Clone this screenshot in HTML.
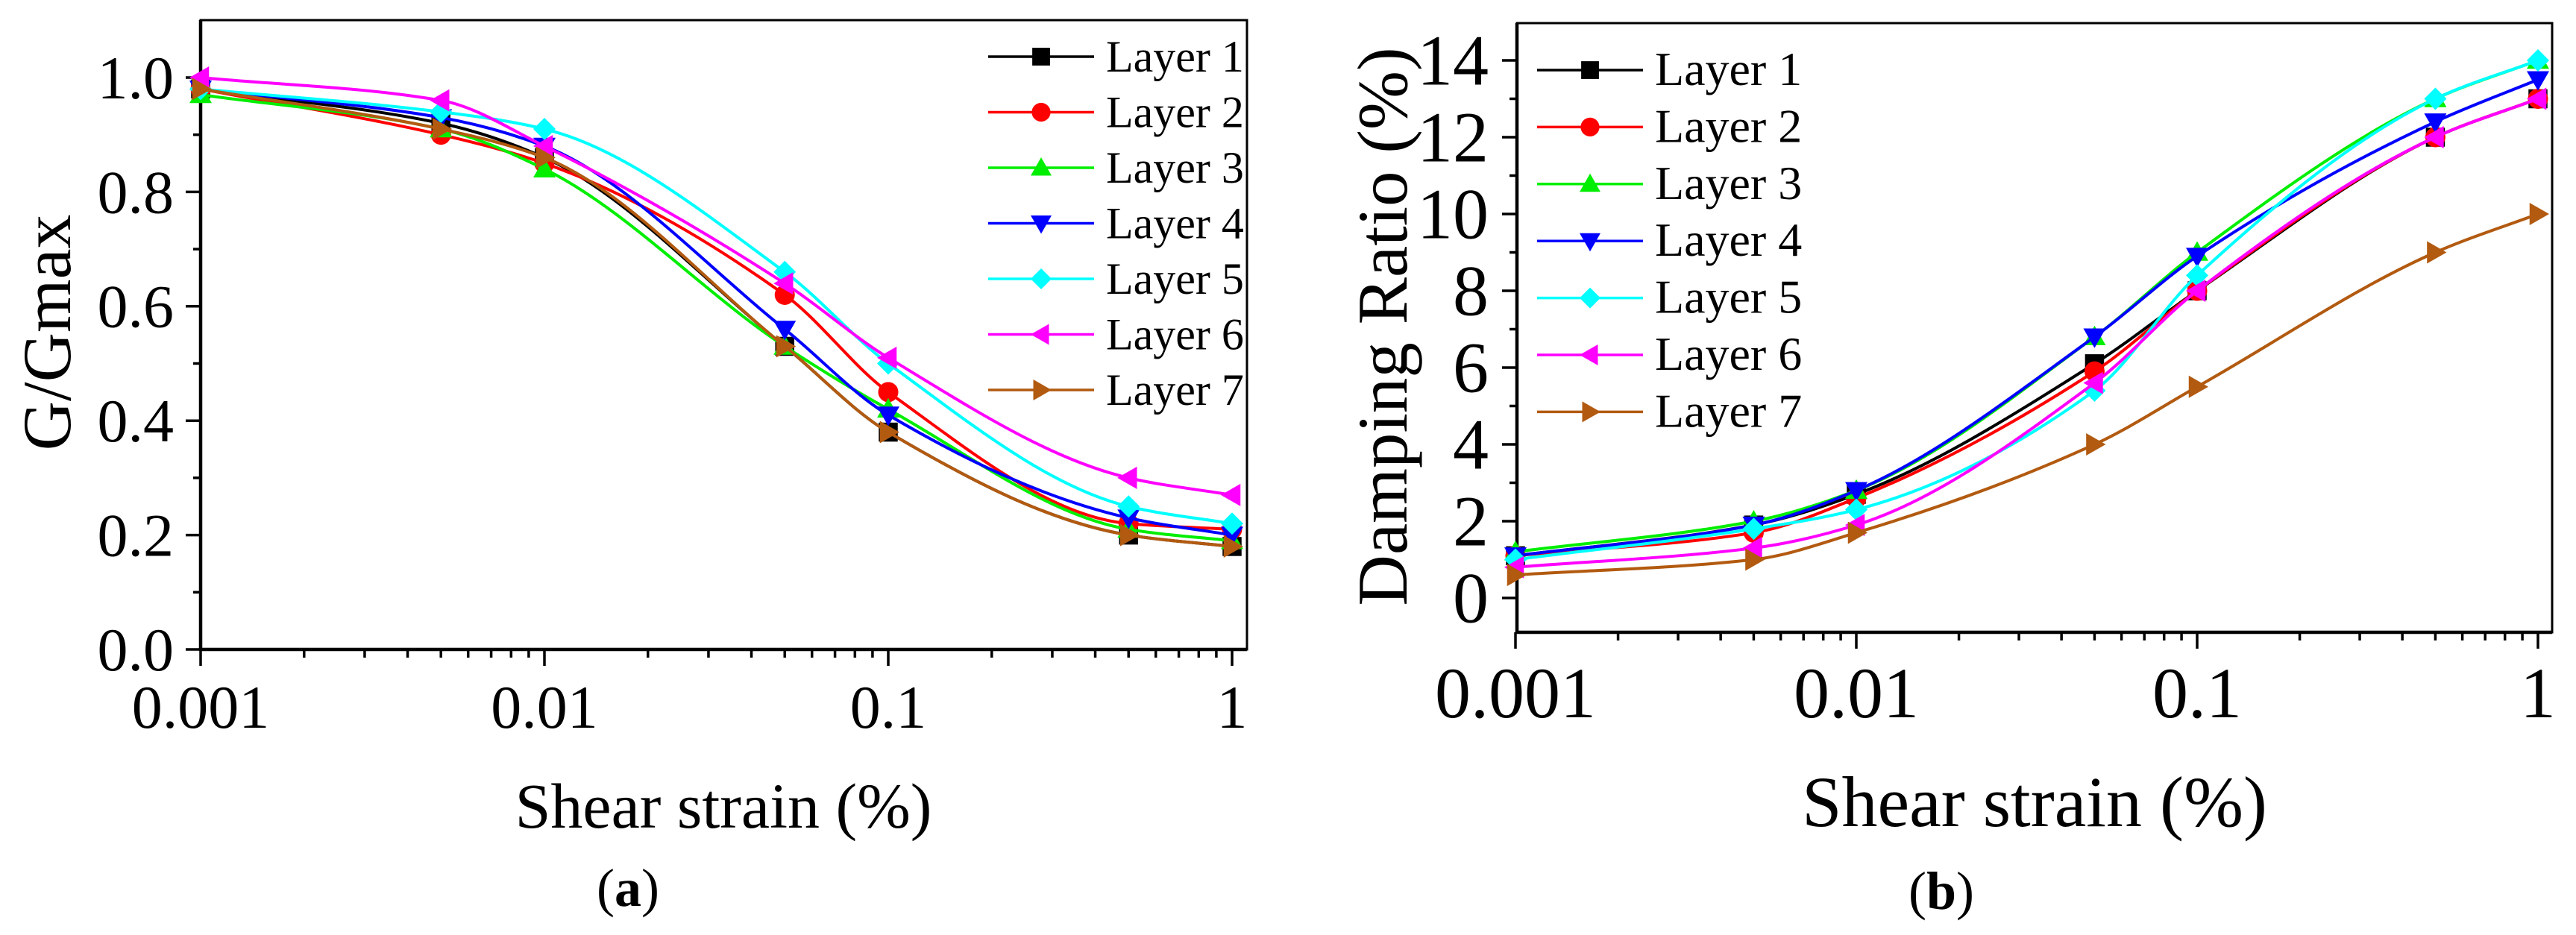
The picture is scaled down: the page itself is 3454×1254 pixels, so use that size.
<!DOCTYPE html>
<html><head><meta charset="utf-8"><style>
html,body{margin:0;padding:0;background:#fff;font-family:'Liberation Serif','Times New Roman',Times,'Nimbus Roman','DejaVu Serif',serif;}
svg text{font-family:'Liberation Serif','Times New Roman',Times,'Nimbus Roman','DejaVu Serif',serif;}
</style></head><body>
<svg id="fig" width="3454" height="1249" viewBox="0 0 3454 1249" xmlns="http://www.w3.org/2000/svg"></svg>
<script>
const strains = [0.001, 0.005, 0.01, 0.05, 0.1, 0.5, 1];
const layerNames = ["Layer 1","Layer 2","Layer 3","Layer 4","Layer 5","Layer 6","Layer 7"];
const layerColors = ["#000000","#ff0000","#00ee00","#0000ff","#00ffff","#ff00ff","#b25a10"];
const layerMarkers = ["square","circle","up","down","diamond","left","right"];
const gL1 = [0.98,0.92,0.86,0.53,0.38,0.20,0.18];
const gL2 = [0.98,0.90,0.85,0.62,0.45,0.22,0.21];
const gL3 = [0.97,0.91,0.84,0.53,0.42,0.21,0.19];
const gL4 = [0.98,0.93,0.88,0.56,0.41,0.23,0.20];
const gL5 = [0.98,0.94,0.91,0.66,0.50,0.25,0.22];
const gL6 = [1.00,0.96,0.88,0.64,0.51,0.30,0.27];
const gL7 = [0.98,0.91,0.86,0.53,0.38,0.20,0.18];
const dL1 = [1.1,1.9,2.7,6.1,8.0,12.0,13.0];
const dL2 = [1.1,1.7,2.6,5.9,8.0,12.0,13.0];
const dL3 = [1.2,2.0,2.8,6.8,9.0,13.0,14.0];
const dL4 = [1.1,1.9,2.8,6.8,8.9,12.4,13.5];
const dL5 = [1.0,1.8,2.3,5.4,8.4,13.0,14.0];
const dL6 = [0.8,1.3,1.9,5.6,8.0,12.0,13.0];
const dL7 = [0.6,1.0,1.7,4.0,5.5,9.0,10.0];
const xTickValues = [0.001,0.01,0.1,1];
const xTickLabels = ["0.001","0.01","0.1","1"];
const gTickValues = [0,0.2,0.4,0.6,0.8,1.0];
const gTickLabels = ["0.0","0.2","0.4","0.6","0.8","1.0"];
const dTickValues = [0,2,4,6,8,10,12,14];
const dTickLabels = ["0","2","4","6","8","10","12","14"];

const NS="http://www.w3.org/2000/svg";
const svg=document.getElementById('fig');
function mk(tag,attrs,parent){const e=document.createElementNS(NS,tag);for(const k in attrs)e.setAttribute(k,attrs[k]);if(tag==='text')e.style.fontFamily="'Liberation Serif','Times New Roman',Times,'DejaVu Serif',serif";(parent||svg).appendChild(e);return e;}

function marker(g,type,x,y,s,color){
  let e;
  const h=s/2;
  if(type==="square") e=mk('rect',{x:x-h*0.85,y:y-h*0.85,width:s*0.85,height:s*0.85,fill:color},g);
  else if(type==="circle") e=mk('circle',{cx:x,cy:y,r:h*0.9,fill:color},g);
  else {
    let p;
    if(type==="up") p=[[x,y-h],[x+h,y+h*0.75],[x-h,y+h*0.75]];
    else if(type==="down") p=[[x,y+h],[x+h,y-h*0.75],[x-h,y-h*0.75]];
    else if(type==="left") p=[[x-h,y],[x+h*0.75,y-h],[x+h*0.75,y+h]];
    else if(type==="right") p=[[x+h,y],[x-h*0.75,y-h],[x-h*0.75,y+h]];
    else p=[[x,y-h],[x+h,y],[x,y+h],[x-h,y]];
    e=mk('polygon',{points:p.map(q=>q.join(',')).join(' '),fill:color},g);
  }
  return e;
}
function smooth(pts){
  const n=pts.length, d=[], m=[];
  for(let i=0;i<n-1;i++) d.push((pts[i+1][1]-pts[i][1])/(pts[i+1][0]-pts[i][0]));
  m[0]=d[0]; m[n-1]=d[n-2];
  for(let i=1;i<n-1;i++){
    if(d[i-1]*d[i]<=0) m[i]=0;
    else{const h0=pts[i][0]-pts[i-1][0],h1=pts[i+1][0]-pts[i][0];
      const w1=2*h1+h0,w2=h1+2*h0; m[i]=(w1+w2)/(w1/d[i-1]+w2/d[i]);}
  }
  let s="M"+pts[0][0]+","+pts[0][1];
  for(let i=0;i<n-1;i++){
    const h=pts[i+1][0]-pts[i][0];
    s+=" C"+(pts[i][0]+h/3)+","+(pts[i][1]+m[i]*h/3)+" "+(pts[i+1][0]-h/3)+","+(pts[i+1][1]-m[i+1]*h/3)+" "+pts[i+1][0]+","+pts[i+1][1];
  }
  return s;
}

function panel(cfg){
  const g=mk('g',{});
  
  
  const L=cfg.left,R=cfg.right,T=cfg.top,B=cfg.bottom;
  const xs=v=>cfg.x0+(Math.log10(v)+3)*cfg.dec;
  const ys=v=>cfg.y0-(v-cfg.ymin)*cfg.ppu;
  const fr=mk('rect',{x:L,y:T,width:R-L,height:B-T,fill:'none',stroke:'#000','stroke-width':3},g);
  
  
  mk('line',{x1:L,y1:T,x2:L,y2:B+2,stroke:'#000','stroke-width':4.5},g);
  mk('line',{x1:L-2,y1:B,x2:R,y2:B,stroke:'#000','stroke-width':4.5},g);
  for(let dcd=-3;dcd<=0;dcd++){
    for(let m=1;m<=9;m++){
      const v=m*Math.pow(10,dcd);
      const x=xs(v);
      if(x>R+1)break;
      mk('line',{x1:x,y1:B,x2:x,y2:B+(m===1?22:11),stroke:'#000','stroke-width':3.5},g);
    }
  }
  xTickValues.forEach((v,i)=>{
    const t=mk('text',{x:xs(v),y:cfg.xlabY,'font-size':cfg.fs,'text-anchor':'middle',fill:'#000'},g);
    t.textContent=xTickLabels[i];
    
    
  });
  cfg.yTicks.forEach((v,i)=>{
    const y=ys(v);
    mk('line',{x1:L-20,y1:y,x2:L,y2:y,stroke:'#000','stroke-width':3.5},g);
    if(i<cfg.yTicks.length-1){
      const ym=ys((v+cfg.yTicks[i+1])/2);
      mk('line',{x1:L-10,y1:ym,x2:L,y2:ym,stroke:'#000','stroke-width':3.5},g);
    }
    const t=mk('text',{x:L-cfg.ylabGap,y:y+cfg.fs*0.34,'font-size':cfg.fs,'text-anchor':'end',fill:'#000'},g);
    t.textContent=cfg.yLabels[i];
    
    
  });
  const xt=mk('text',{x:cfg.xtX,y:cfg.xtY,'font-size':cfg.xtFs,'text-anchor':'middle',fill:'#000'},g);
  xt.textContent="Shear strain (%)";
  
  
  const yt=mk('text',{x:0,y:0,'font-size':cfg.ytFs,'text-anchor':'middle',fill:'#000',transform:`translate(${cfg.ytX},${cfg.ytY}) rotate(-90)`},g);
  yt.textContent=cfg.ytitle;
  
  
  const cap=mk('text',{x:cfg.capX,y:cfg.capY,'font-size':72,'text-anchor':'middle',fill:'#000'},g);
  cap.textContent="(";
  const b=mk('tspan',{'font-weight':'bold'},cap); b.textContent=cfg.cap;
  const c2=mk('tspan',{},cap); c2.textContent=")";
  
  
  cfg.series.forEach((vals,si)=>{
    const sg=mk('g',{},g);
    
    
    const pts=strains.map((s,i)=>[xs(s),ys(vals[i])]);
    mk('path',{d:smooth(pts),fill:'none',stroke:layerColors[si],'stroke-width':4},sg);
    pts.forEach(p=>{
      const m=marker(sg,layerMarkers[si],p[0],p[1],30,layerColors[si]);
      
      
    });
  });
  const lg=mk('g',{},g);
  
  
  layerNames.forEach((n,i)=>{
    const y=cfg.legY+i*cfg.legDy;
    const eg=mk('g',{},lg);
    
    
    mk('line',{x1:cfg.legX,y1:y,x2:cfg.legX+142,y2:y,stroke:layerColors[i],'stroke-width':3.5},eg);
    marker(eg,layerMarkers[i],cfg.legX+71,y,28,layerColors[i]);
    const t=mk('text',{x:cfg.legX+158,y:y+20,'font-size':cfg.legFs,fill:'#000'},eg);
    t.textContent=n;
  });
}

panel({name:'chart-a-g-gmax',left:269,right:1672,top:27,bottom:871,x0:269,dec:461,y0:871,ymin:0,ppu:767,
  fs:82,xlabY:976,ylabGap:36,yTicks:gTickValues,yLabels:gTickLabels,
  xtX:970,xtY:1110,xtFs:86,ytX:94,ytY:446,ytFs:92,ytitle:"G/Gmax",capX:842,capY:1215,cap:"a",
  series:[gL1,gL2,gL3,gL4,gL5,gL6,gL7],legX:1325,legY:76,legDy:74.5,legFs:60});
panel({name:'chart-b-damping-ratio',left:2034,right:3422,top:31,bottom:848,x0:2032,dec:457,y0:802,ymin:0,ppu:51.5,
  fs:96,xlabY:962,ylabGap:38,yTicks:dTickValues,yLabels:dTickLabels,
  xtX:2728,xtY:1108,xtFs:96,ytX:1886,ytY:438,ytFs:95,ytitle:"Damping Ratio (%)",capX:2603,capY:1219,cap:"b",
  series:[dL1,dL2,dL3,dL4,dL5,dL6,dL7],legX:2061,legY:94,legDy:76.4,legFs:64});
</script>
</body></html>
